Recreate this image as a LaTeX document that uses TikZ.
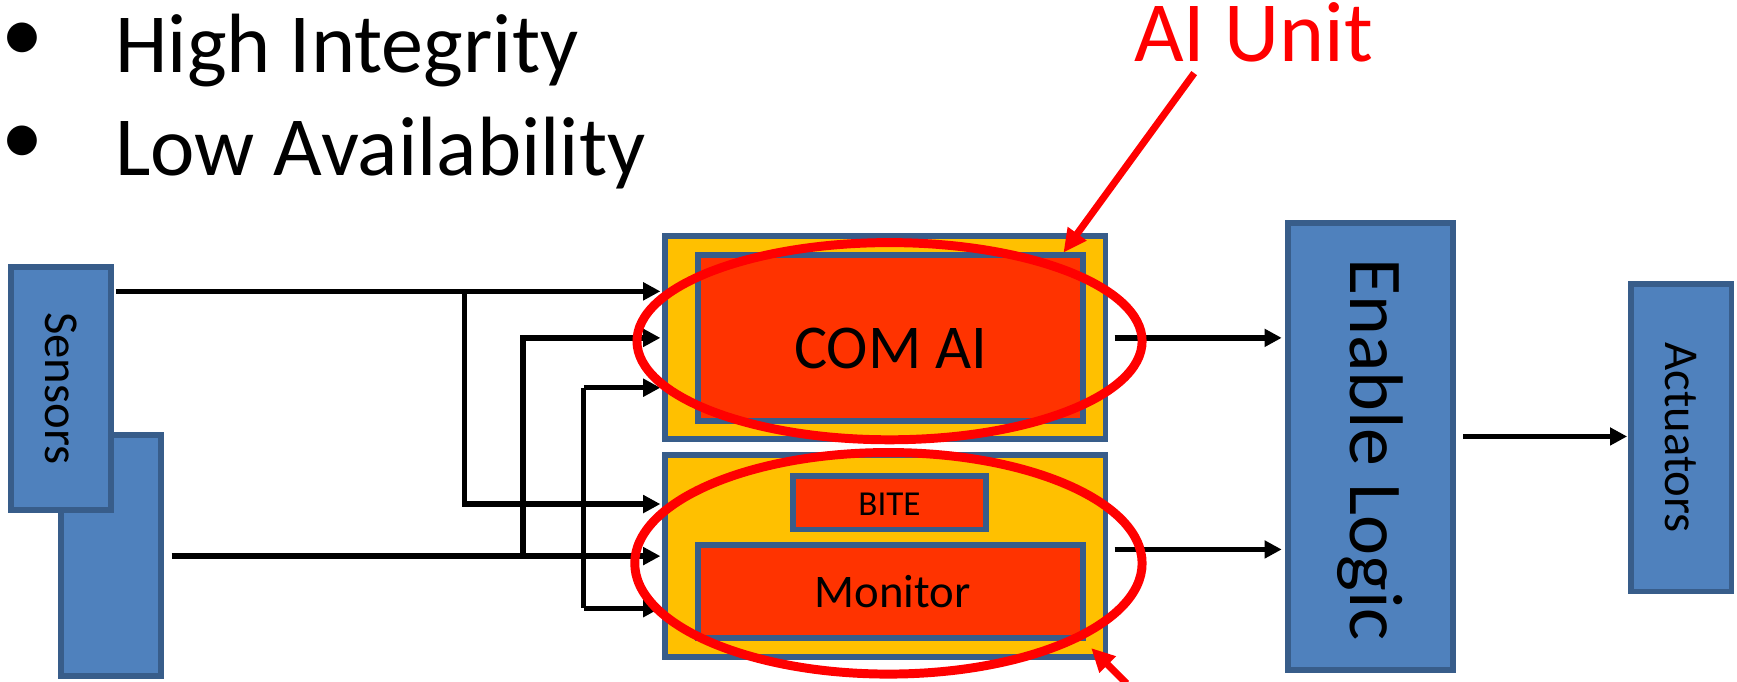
\documentclass[tikz,border=0pt]{standalone}
\usepackage{fontspec}
\setmainfont{Carlito}
\usetikzlibrary{arrows.meta,fit}
\definecolor{boxblue}{HTML}{4F81BD}
\definecolor{edgeblue}{HTML}{385D8A}
\definecolor{unitgold}{HTML}{FFC000}
\definecolor{corered}{HTML}{FF3300}
\definecolor{markred}{HTML}{FF0000}
\newcommand{\fs}[1]{\fontsize{#1}{1.2\dimexpr#1pt\relax}\selectfont}

\begin{document}
\begin{tikzpicture}[x=0.01cm,y=-0.01cm,
  blockbox/.style={draw=edgeblue, line width=1.5pt, fill=boxblue, inner sep=0pt, outer sep=0pt},
  unitbox/.style={draw=edgeblue, line width=1.5pt, fill=unitgold, inner sep=0pt, outer sep=0pt},
  corebox/.style={draw=edgeblue, line width=1.5pt, fill=corered, inner sep=0pt, outer sep=0pt},
  wire/.style={line width=1.35pt},
  sig/.style={line width=1.35pt, -{Triangle[length=4.4pt,width=4.4pt]}, shorten >=1.1pt},
  ring/.style={draw=markred, line width=2.3pt},
  callout/.style={draw=markred, line width=1.8pt, -{Triangle[length=6pt,width=5.6pt]}},
  ]
\useasboundingbox (0,0) rectangle (1568,615);

% ---- sensor blocks (rear one first) ----
\node[blockbox, fit={(55,393) (145,610)}] (sensB) {};
\node[blockbox, fit={(10,241) (100,460)}] (sensA) {};
\node[rotate=-90, font=\fs{12.5}] (sensT) at (sensA.center) {Sensors};

% ---- AI unit lanes ----
\node[unitbox, fit={(600,213) (998,396)}] (comU) {};
\node[corebox, fit={(630,230) (978,380)}] (com) {};
\node[font=\fs{16}] (comT) at (804,315) {COM AI};

\node[unitbox, fit={(600,411) (998,593)}] (monU) {};
\node[corebox, fit={(716,430) (890,478)}] (bite) {};
\node[font=\fs{9}] (biteT) at (803,455) {BITE};
\node[corebox, fit={(630,492) (978,576)}] (mon) {};
\node[font=\fs{12}] (monT) at (806,534) {Monitor};

% ---- enable logic and actuators ----
\node[blockbox, fit={(1163,201) (1312,605)}] (enable) {};
\node[rotate=-90, font=\fs{19.5}] (enT) at (1237,406) {Enable Logic};
\node[blockbox, fit={(1472,256) (1563,534)}] (act) {};
\node[rotate=-90, font=\fs{12.5}] (actT) at (act.center) {Actuators};

% ---- input wiring ----
\coordinate (inA) at (105,263);
\coordinate (inB) at (155,502);
\coordinate (j1) at (419,263);
\coordinate (b1) at (419,455);
\coordinate (j2) at (472,502);
\coordinate (b2) at (472,305);
\coordinate (v3a) at (527,350);
\coordinate (v3b) at (527,549);

\draw[sig] (inA) -- (comU.west |- inA);
\draw[sig] (j1) -- (b1) -- (monU.west |- b1);
\draw[sig] (inB) -- (monU.west |- inB);
\draw[sig] (j2) -- (b2) -- (comU.west |- b2);
\draw[wire] (v3a) -- (v3b);
\draw[sig] (v3a) -- (comU.west |- v3a);
\draw[sig] (v3b) -- (monU.west |- v3b);

% ---- output wiring ----
\coordinate (o1) at (998,305);
\coordinate (o2) at (998,496);
\coordinate (o3) at (1312,394);
\draw[sig, shorten <=2.3pt, shorten >=1.7pt] (o1) -- (enable.west |- o1);
\draw[sig, shorten <=2.3pt, shorten >=1.7pt] (o2) -- (enable.west |- o2);
\draw[sig, shorten <=2.5pt, shorten >=0.9pt] (o3) -- (act.west |- o3);

% ---- highlight rings and callouts ----
\draw[ring] (803,308) ellipse [x radius=228, y radius=89];
\draw[ring] (802,508.5) ellipse [x radius=229, y radius=100];

\node[anchor=base west, inner sep=0pt, text=markred, font=\fs{22}] (aiunit) at (1023,55.7) {AI Unit};
\coordinate (calTop) at (1078,66);
\coordinate (tipTop) at (960,228);
\draw[callout] (calTop) -- (tipTop);
\coordinate (calBot) at (1017,617);
\coordinate (tipBot) at (985,585);
\draw[callout] (calBot) -- (tipBot);

% ---- bullet list ----
\node[inner sep=0pt, font=\fs{21.6}] (bulA) at (20,38.4) {•};
\node[anchor=base west, inner sep=0pt, font=\fs{21.6}] (hi) at (103.5,65.6) {High Integrity};
\node[inner sep=0pt, font=\fs{21.6}] (bulB) at (20,131) {•};
\node[anchor=base west, inner sep=0pt, font=\fs{21.6}] (lo) at (103.5,158) {Low Availability};
\end{tikzpicture}
\end{document}
